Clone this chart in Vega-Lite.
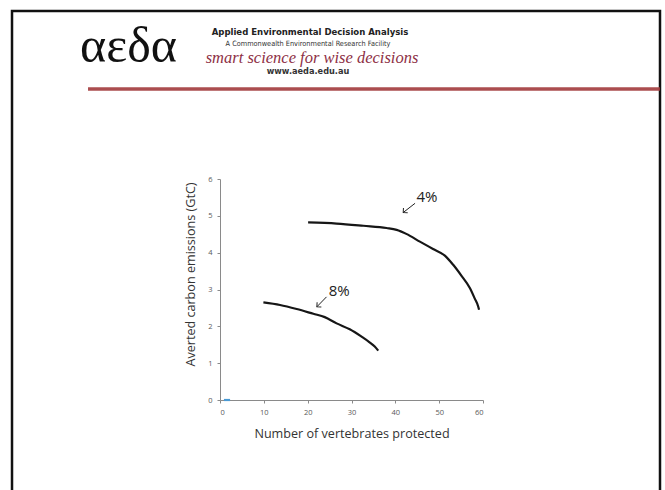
{
  "$schema": "https://vega.github.io/schema/vega-lite/v6.json",
  "width": 263,
  "height": 221,
  "autosize": {"type": "none"},
  "padding": {"left": 220, "top": 179, "right": 182, "bottom": 90},
  "background": "white",
  "config": {
    "view": {"stroke": null},
    "axis": {
      "grid": false,
      "labelFont": "Open Sans",
      "labelFontSize": 7.5,
      "labelColor": "#595959",
      "domainColor": "#8a8a8a",
      "tickColor": "#8a8a8a",
      "tickSize": 3,
      "labelPadding": 5,
      "titleFont": "Open Sans",
      "titleFontSize": 12.6,
      "titleFontWeight": "normal",
      "titleColor": "#333333"
    }
  },
  "datasets": {
    "curves": [
      {"series": "4%", "x": 20.1, "y": 4.82},
      {"series": "4%", "x": 26.6, "y": 4.79},
      {"series": "4%", "x": 32.7, "y": 4.73},
      {"series": "4%", "x": 38.0, "y": 4.67},
      {"series": "4%", "x": 40.3, "y": 4.62},
      {"series": "4%", "x": 42.5, "y": 4.51},
      {"series": "4%", "x": 45.6, "y": 4.30},
      {"series": "4%", "x": 48.6, "y": 4.10},
      {"series": "4%", "x": 51.3, "y": 3.92},
      {"series": "4%", "x": 53.2, "y": 3.67},
      {"series": "4%", "x": 55.1, "y": 3.37},
      {"series": "4%", "x": 57.0, "y": 3.04},
      {"series": "4%", "x": 58.1, "y": 2.76},
      {"series": "4%", "x": 58.9, "y": 2.54},
      {"series": "4%", "x": 59.1, "y": 2.45},
      {"series": "8%", "x": 9.9, "y": 2.65},
      {"series": "8%", "x": 13.7, "y": 2.58},
      {"series": "8%", "x": 17.5, "y": 2.47},
      {"series": "8%", "x": 21.3, "y": 2.34},
      {"series": "8%", "x": 23.9, "y": 2.25},
      {"series": "8%", "x": 26.6, "y": 2.08},
      {"series": "8%", "x": 29.6, "y": 1.92},
      {"series": "8%", "x": 32.3, "y": 1.72},
      {"series": "8%", "x": 34.2, "y": 1.56},
      {"series": "8%", "x": 35.3, "y": 1.45},
      {"series": "8%", "x": 36.1, "y": 1.34},
      {"series": "Series 3", "x": 0.9, "y": 0},
      {"series": "Series 3", "x": 2.3, "y": 0}
    ],
    "labels": [
      {"label": "4%", "x": 47.2, "y": 5.5},
      {"label": "8%", "x": 27.2, "y": 2.96}
    ],
    "arrows": [
      {"label": "4%", "x": 44.5, "y": 5.34, "x2": 41.8, "y2": 5.09},
      {"label": "8%", "x": 24.3, "y": 2.8, "x2": 22.1, "y2": 2.53}
    ]
  },
  "layer": [
    {
      "data": {"name": "curves"},
      "mark": {"type": "line", "interpolate": "monotone", "strokeWidth": 2.2},
      "encoding": {
        "x": {
          "field": "x", "type": "quantitative",
          "scale": {"domain": [0, 60], "nice": false},
          "axis": {"title": "Number of vertebrates protected", "values": [0, 10, 20, 30, 40, 50, 60], "titlePadding": 12}
        },
        "y": {
          "field": "y", "type": "quantitative",
          "scale": {"domain": [0, 6], "nice": false},
          "axis": {"title": "Averted carbon emissions (GtC)", "values": [0, 1, 2, 3, 4, 5, 6], "tickCount": 7, "labelOverlap": false, "titlePadding": 10, "titleY": 95}
        },
        "color": {
          "field": "series", "type": "nominal",
          "scale": {"domain": ["4%", "8%", "Series 3"], "range": ["#161616", "#161616", "#4a9ad4"]},
          "legend": null
        }
      }
    },
    {
      "data": {"values": [{}]},
      "mark": {"type": "rect", "filled": false, "stroke": "#111111", "strokeWidth": 2.5},
      "encoding": {
        "x": {"datum": -47.45, "type": "quantitative"},
        "x2": {"datum": 100.38},
        "y": {"datum": 10.561, "type": "quantitative"},
        "y2": {"datum": -2.987}
      }
    },
    {
      "data": {"values": [{}]},
      "mark": {"type": "rule", "stroke": "#a23a3c", "strokeWidth": 3.5, "opacity": 0.9},
      "encoding": {
        "x": {"datum": -30.11, "type": "quantitative"},
        "x2": {"datum": 100.38},
        "y": {"datum": 8.443, "type": "quantitative"}
      }
    },
    {
      "data": {"values": [{}]},
      "mark": {"type": "text", "text": "αεδα", "font": "Liberation Serif", "fontSize": 50, "align": "left", "baseline": "alphabetic", "color": "#111111"},
      "encoding": {
        "x": {"datum": -31.94, "type": "quantitative"},
        "y": {"datum": 9.176, "type": "quantitative"}
      }
    },
    {
      "data": {"values": [{}]},
      "mark": {"type": "text", "text": "Applied Environmental Decision Analysis", "font": "DejaVu Sans Condensed", "fontWeight": "bold", "fontSize": 9.5, "align": "center", "baseline": "alphabetic", "color": "#222222"},
      "encoding": {
        "x": {"datum": 20.53, "type": "quantitative"},
        "y": {"datum": 9.909, "type": "quantitative"}
      }
    },
    {
      "data": {"values": [{}]},
      "mark": {"type": "text", "text": "A Commonwealth Environmental Research Facility", "font": "DejaVu Sans Condensed", "fontSize": 7.3, "align": "center", "baseline": "alphabetic", "color": "#333333"},
      "encoding": {
        "x": {"datum": 20.08, "type": "quantitative"},
        "y": {"datum": 9.611, "type": "quantitative"}
      }
    },
    {
      "data": {"values": [{}]},
      "mark": {"type": "text", "text": "smart science for wise decisions", "font": "Liberation Serif", "fontStyle": "italic", "fontSize": 16.5, "align": "center", "baseline": "alphabetic", "color": "#8e3045"},
      "encoding": {
        "x": {"datum": 20.99, "type": "quantitative"},
        "y": {"datum": 9.149, "type": "quantitative"}
      }
    },
    {
      "data": {"values": [{}]},
      "mark": {"type": "text", "text": "www.aeda.edu.au", "font": "DejaVu Sans", "fontWeight": "bold", "fontSize": 8.2, "align": "center", "baseline": "alphabetic", "color": "#333333"},
      "encoding": {
        "x": {"datum": 20.08, "type": "quantitative"},
        "y": {"datum": 8.85, "type": "quantitative"}
      }
    },
    {
      "data": {"name": "labels"},
      "mark": {"type": "text", "font": "Open Sans", "fontSize": 15, "color": "#222222", "align": "center", "baseline": "middle"},
      "encoding": {
        "x": {"field": "x", "type": "quantitative"},
        "y": {"field": "y", "type": "quantitative"},
        "text": {"field": "label"}
      }
    },
    {
      "data": {"name": "arrows"},
      "mark": {"type": "rule", "color": "#222222", "strokeWidth": 1},
      "encoding": {
        "x": {"field": "x", "type": "quantitative"},
        "y": {"field": "y", "type": "quantitative"},
        "x2": {"field": "x2"},
        "y2": {"field": "y2"}
      }
    },
    {
      "data": {"name": "arrows"},
      "mark": {"type": "point", "shape": "M-1,-1L0,0L1,-1", "filled": false, "stroke": "#222222", "strokeWidth": 1, "size": 40, "angle": 48, "opacity": 1},
      "encoding": {
        "x": {"field": "x2", "type": "quantitative"},
        "y": {"field": "y2", "type": "quantitative"}
      }
    }
  ]
}
